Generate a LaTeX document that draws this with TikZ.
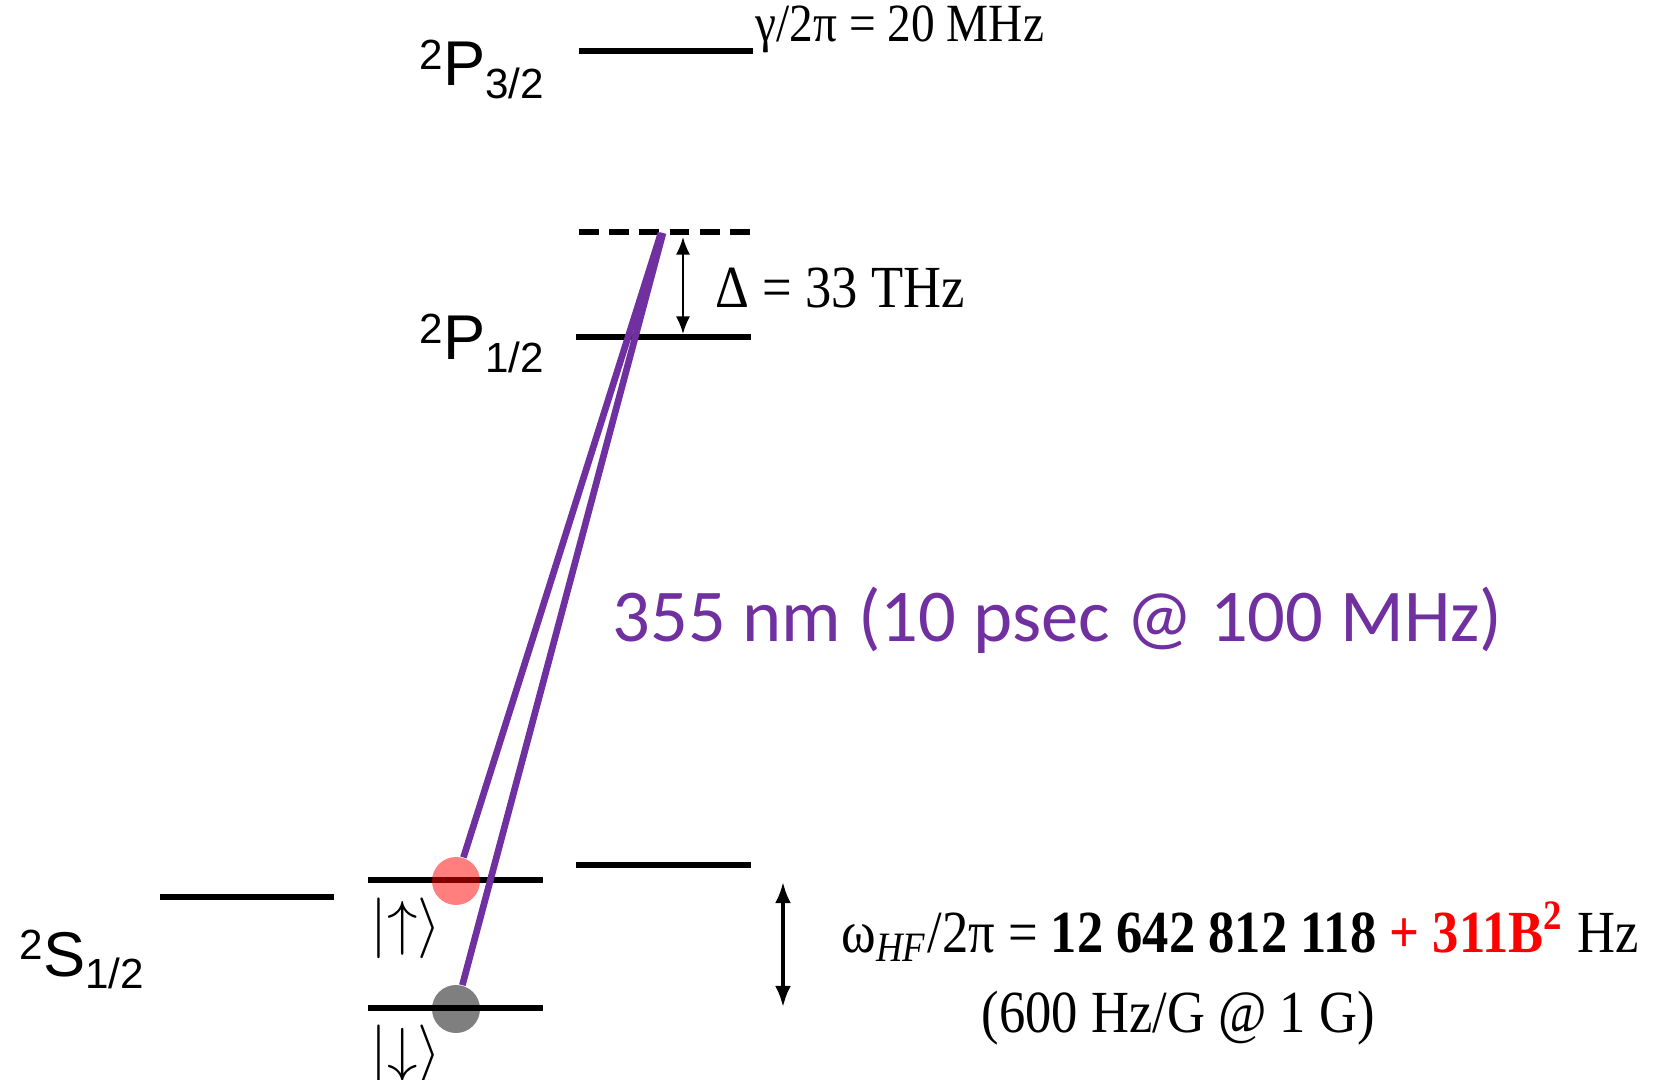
\documentclass[tikz,border=0pt]{standalone}
\usepackage{fontspec}
\setmainfont{Liberation Serif}
\newfontfamily\narrowserif[FakeStretch=0.88]{Liberation Serif}
\newfontfamily\arialfont{Liberation Sans}
\newfontfamily\calibrifont{Carlito}
\usetikzlibrary{arrows.meta}
\definecolor{LaserColor}{RGB}{112,48,160}
\pgfdeclarelayer{front}
\pgfsetlayers{main,front}
\newcommand{\levlab}[3]{{\arialfont\fontsize{18}{20}\selectfont
  \raisebox{4.6pt}{\fontsize{12}{14}\selectfont #1}#2\raisebox{-3.6pt}{\fontsize{12}{14}\selectfont #3}}}

\begin{document}
\begin{tikzpicture}[x=1cm,y=-1cm,
    level/.style={line width=1.6pt},
    beam/.style={LaserColor,line width=1.9pt},
    ion/.style={circle,minimum size=0.48cm,inner sep=0pt}]
\useasboundingbox (0,0) rectangle (16.54,10.80);

% levels
\draw[level] (5.79,0.51) -- (7.53,0.51);
\draw[level,dash pattern=on 5.6pt off 3pt] (5.79,2.32) -- (7.53,2.32);
\draw[level] (5.76,3.37) -- (7.51,3.37);
\draw[level] (5.76,8.65) -- (7.51,8.65);
\draw[level] (1.60,8.97) -- (3.34,8.97);
\draw[level] (3.68,8.80) -- (5.43,8.80);
\draw[level] (3.68,10.08) -- (5.43,10.08);

\node[anchor=base west,inner sep=0pt] (p32) at (4.19,0.86) {\levlab{2}{P}{3/2}};
\node[anchor=base west,inner sep=0pt] (p12) at (4.19,3.60) {\levlab{2}{P}{1/2}};
\node[anchor=base west,inner sep=0pt] (s12) at (0.19,9.76) {\levlab{2}{S}{1/2}};

\node[anchor=base west,inner sep=0pt,font=\narrowserif\fontsize{15.3}{18}\selectfont]
    (gam) at (7.55,0.42) {γ/2π = 20 MHz};
\node[anchor=base west,inner sep=0pt,font=\narrowserif\fontsize{17}{20}\selectfont]
    (det) at (7.15,3.08) {Δ = 33 THz};

% detuning arrow
\coordinate (dtop) at (6.83,2.37);
\coordinate (dbot) at (6.83,3.34);
\draw[{Latex[length=5pt,width=4pt]}-{Latex[length=5pt,width=4pt]},line width=0.6pt] (dtop) -- (dbot);

% ions
\begin{pgfonlayer}{front}
\node[ion,fill=red,fill opacity=0.5] (upion) at (4.56,8.81) {};
\node[ion,fill=black,fill opacity=0.5] (dnion) at (4.56,10.09) {};
\end{pgfonlayer}

% raman beams
\coordinate (vtop) at (6.61,2.33);
\coordinate (vtop2) at (6.63,2.33);
\draw[beam] (vtop) -- (upion);
\draw[beam] (vtop2) -- (dnion);
\node[anchor=base west,inner sep=0pt,text=LaserColor,font=\calibrifont\fontsize{21.2}{24}\selectfont]
    (laser) at (6.12,6.41) {355 nm (10 psec @ 100 MHz)};

\node[font=\fontsize{16}{18}\selectfont,inner sep=0pt] (ketup) at (4.06,9.28) {$|{\uparrow}\rangle$};
\node[font=\fontsize{16}{18}\selectfont,inner sep=0pt] (ketdn) at (4.06,10.55) {$|{\downarrow}\rangle$};

% hyperfine splitting
\coordinate (htop) at (7.83,8.82);
\coordinate (hbot) at (7.83,10.07);
\draw[{Latex[length=6pt,width=4.5pt]}-{Latex[length=6pt,width=4.5pt]},line width=1pt] (htop) -- (hbot);
\node[anchor=base west,inner sep=0pt,font=\narrowserif\fontsize{17}{20}\selectfont]
    (hfs) at (8.41,9.52) {ω\textsubscript{\textit{HF}}/2π = \textbf{12 642 812 118} \textcolor{red}{\textbf{+ 311B\textsuperscript{2}}} Hz};
\node[anchor=base west,inner sep=0pt,font=\narrowserif\fontsize{17}{20}\selectfont]
    (zee) at (9.81,10.32) {(600 Hz/G @ 1 G)};
\end{tikzpicture}
\end{document}
